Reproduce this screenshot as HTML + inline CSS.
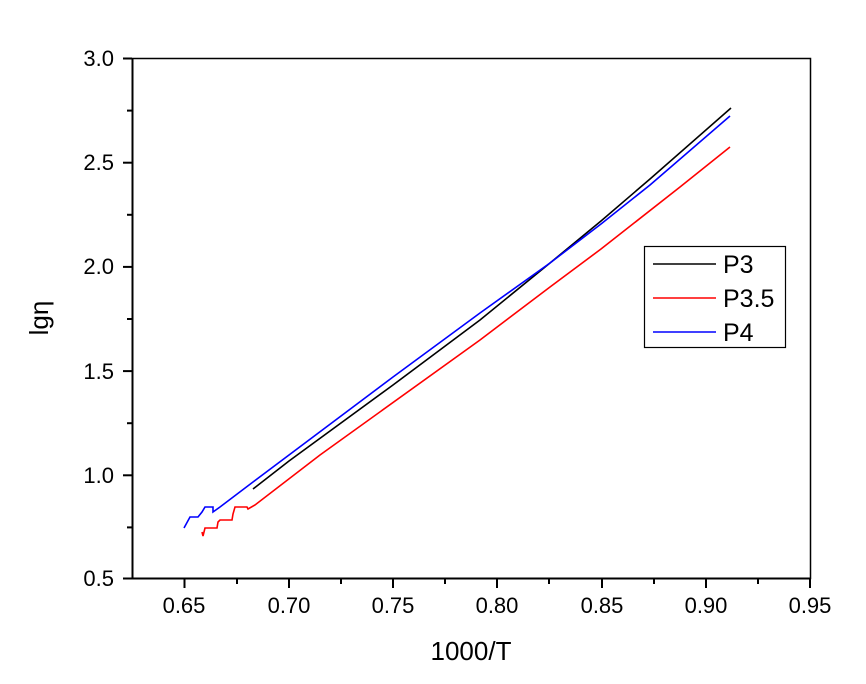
<!DOCTYPE html>
<html><head><style>body{margin:0;background:#fff}svg{display:block}</style></head><body>
<svg width="866" height="684" xmlns="http://www.w3.org/2000/svg" font-family="Liberation Sans, sans-serif">
<rect x="132.5" y="58.5" width="678" height="520" fill="none" stroke="#000" stroke-width="1.5"/>
<line x1="132" y1="578.5" x2="811" y2="578.5" stroke="#000" stroke-width="2"/>
<line x1="132.5" y1="58" x2="132.5" y2="579" stroke="#000" stroke-width="2"/>
<g stroke="#000" stroke-width="2">
<line x1="184.5" y1="579" x2="184.5" y2="588"/><line x1="289" y1="579" x2="289" y2="588"/><line x1="393" y1="579" x2="393" y2="588"/><line x1="497" y1="579" x2="497" y2="588"/><line x1="602" y1="579" x2="602" y2="588"/><line x1="706" y1="579" x2="706" y2="588"/><line x1="810" y1="579" x2="810" y2="588"/>
<line x1="237" y1="579" x2="237" y2="584"/><line x1="341" y1="579" x2="341" y2="584"/><line x1="445" y1="579" x2="445" y2="584"/><line x1="549" y1="579" x2="549" y2="584"/><line x1="654" y1="579" x2="654" y2="584"/><line x1="758" y1="579" x2="758" y2="584"/>
<line x1="123" y1="58.5" x2="132" y2="58.5"/><line x1="123" y1="162.7" x2="132" y2="162.7"/><line x1="123" y1="266.9" x2="132" y2="266.9"/><line x1="123" y1="371.1" x2="132" y2="371.1"/><line x1="123" y1="475.3" x2="132" y2="475.3"/><line x1="123" y1="578.5" x2="132" y2="578.5"/>
<line x1="127" y1="110.6" x2="132" y2="110.6"/><line x1="127" y1="214.8" x2="132" y2="214.8"/><line x1="127" y1="319" x2="132" y2="319"/><line x1="127" y1="423.2" x2="132" y2="423.2"/><line x1="127" y1="527.4" x2="132" y2="527.4"/>
</g>
<g font-size="22" text-anchor="middle" fill="#000">
<text x="184" y="613">0.65</text><text x="289" y="613">0.70</text><text x="393" y="613">0.75</text><text x="497" y="613">0.80</text><text x="602" y="613">0.85</text><text x="706" y="613">0.90</text><text x="810" y="613">0.95</text>
</g>
<g font-size="22" text-anchor="end" fill="#000">
<text x="114" y="66">3.0</text><text x="114" y="170">2.5</text><text x="114" y="274">2.0</text><text x="114" y="379">1.5</text><text x="114" y="483">1.0</text><text x="114" y="586">0.5</text>
</g>
<text x="471" y="660" font-size="26" text-anchor="middle">1000/T</text>
<text transform="translate(48,318) rotate(-90)" font-size="26" text-anchor="middle">lgη</text>
<g fill="none" stroke-width="1.6">
<polyline stroke="#000" points="253,489 289,461 393,385 480,320 550,263 601,221 650,179 731,108"/>
<polyline stroke="#f00" points="202,532 203,536 205,528 217,528 218,522 220,520 232,520 233,514 235,507 247,507 248,509 255,505 320,455 480,340 550,287 601,249 680,187 730,147"/>
<polyline stroke="#00f" points="184,528 190,517 198,517 202,512 205,507 213,507 213,512 220,507 253,482 393,377 480,313 550,263 601,224 650,185 730,116"/>
</g>
<rect x="644.5" y="246.5" width="141" height="101" fill="#fff" stroke="#000" stroke-width="1.2"/>
<g stroke-width="1.6"><line x1="653" y1="264" x2="716" y2="264" stroke="#000"/><line x1="653" y1="298" x2="716" y2="298" stroke="#f00"/><line x1="653" y1="332" x2="716" y2="332" stroke="#00f"/></g>
<g font-size="25" fill="#000"><text x="723" y="273">P3</text><text x="723" y="307">P3.5</text><text x="723" y="341">P4</text></g>
</svg>
</body></html>
